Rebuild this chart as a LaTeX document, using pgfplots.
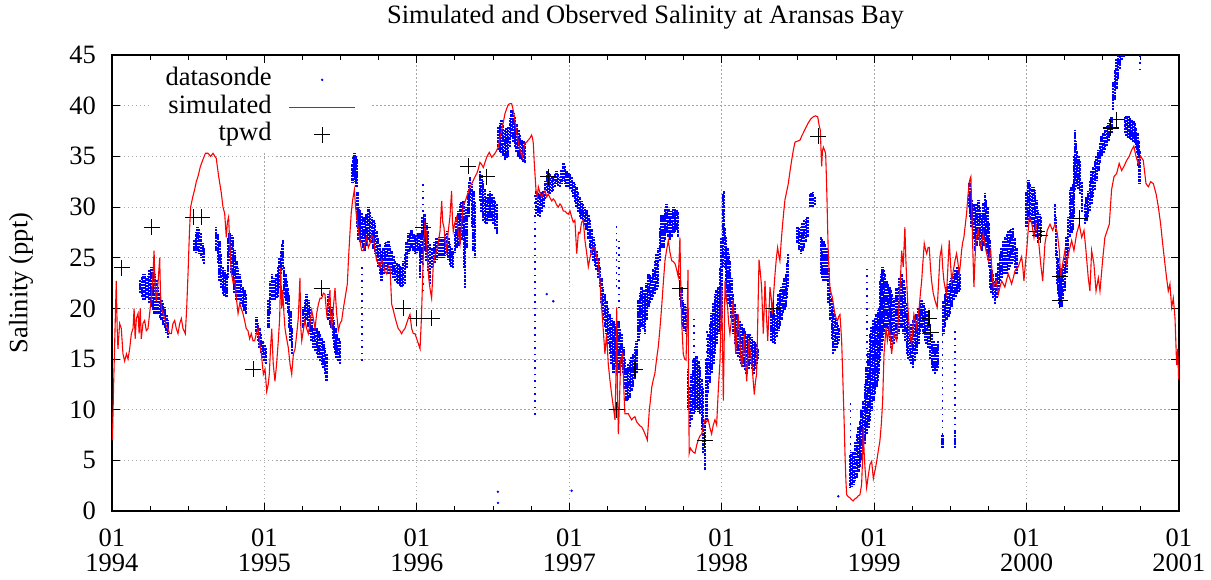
\documentclass[border=0pt]{standalone}
\usepackage{fontspec}
\setmainfont{Liberation Serif}
\usepackage{pgfplots}
\usepackage{pgfplotstable}
\pgfplotsset{compat=1.18}

% datasonde record: dense stretches, each column spans lo..hi on that date
\pgfplotstableread{
x lo hi
1994.185 21.5 22.8
1994.195 21.1 23.1
1994.205 20.8 23.4
1994.214 20.8 23.4
1994.225 21.0 23.0
1994.236 21.0 23.2
1994.247 20.5 23.8
1994.258 20.1 24.1
1994.269 19.8 23.8
1994.280 19.4 23.4
1994.291 19.4 22.8
1994.302 19.4 22.1
1994.313 19.0 21.5
1994.324 18.8 20.8
1994.335 18.4 20.5
1994.346 18.1 20.1
1994.357 17.6 19.4
1994.367 17.1 18.8
1994.540 25.7 26.7
1994.550 25.5 27.5
1994.560 25.7 28.0
1994.572 25.4 27.8
1994.584 25.0 27.4
1994.596 24.7 26.5
1994.604 24.4 26.0
1994.684 25.7 28.0
1994.695 24.5 27.4
1994.706 22.7 26.7
1994.717 22.0 25.4
1994.728 21.4 24.1
1994.739 21.2 23.8
1994.750 21.1 23.4
1994.761 23.0 27.0
1994.772 24.7 27.4
1994.783 23.5 27.2
1994.794 22.7 27.0
1994.805 21.5 25.8
1994.816 20.8 24.7
1994.827 20.8 24.0
1994.837 20.8 23.4
1994.848 20.4 22.8
1994.859 20.1 22.1
1994.870 19.7 21.8
1994.881 19.4 21.4
1994.947 17.5 19.1
1994.958 16.8 18.6
1994.968 16.1 18.1
1994.979 15.6 17.5
1994.990 15.1 16.8
1995.001 14.8 16.4
1995.012 14.5 16.1
1995.026 18.1 20.8
1995.037 19.4 22.7
1995.048 20.8 23.4
1995.059 20.8 23.0
1995.069 20.8 22.7
1995.080 21.0 23.4
1995.091 21.1 24.1
1995.099 22.0 25.0
1995.107 23.4 25.7
1995.114 23.8 26.4
1995.120 24.1 26.7
1995.128 21.4 24.1
1995.137 21.0 23.4
1995.146 20.4 22.7
1995.155 19.5 22.0
1995.163 18.1 21.4
1995.171 16.8 19.8
1995.179 15.5 18.1
1995.255 18.1 20.1
1995.266 18.5 20.8
1995.277 18.8 21.4
1995.288 18.2 20.8
1995.299 17.5 20.1
1995.310 16.8 19.1
1995.321 16.1 18.1
1995.332 15.8 18.1
1995.343 15.5 18.1
1995.354 15.1 17.8
1995.365 14.8 17.5
1995.376 14.4 17.1
1995.387 14.1 16.8
1995.398 13.5 16.1
1995.408 12.8 15.5
1995.419 18.8 21.4
1995.430 18.4 20.8
1995.441 18.1 20.1
1995.449 17.0 19.5
1995.457 16.1 18.8
1995.466 15.6 18.1
1995.474 15.1 17.5
1995.485 14.8 17.1
1995.496 14.5 16.8
1995.579 32.4 34.3
1995.585 32.8 35.0
1995.590 33.0 35.3
1995.598 32.5 35.0
1995.605 32.0 34.7
1995.610 28.0 31.5
1995.616 26.7 30.0
1995.627 26.5 29.7
1995.638 26.4 29.4
1995.649 26.0 29.0
1995.660 25.7 28.7
1995.671 26.2 29.3
1995.682 26.7 30.0
1995.693 26.5 29.5
1995.704 26.4 29.0
1995.715 25.9 28.7
1995.726 25.4 28.4
1995.737 24.8 27.7
1995.747 24.1 27.0
1995.758 23.4 26.4
1995.769 22.7 25.7
1995.780 23.4 26.0
1995.791 24.1 26.4
1995.802 23.8 26.5
1995.813 23.4 26.7
1995.824 23.4 26.2
1995.835 23.4 25.7
1995.846 23.0 25.2
1995.857 22.7 24.7
1995.868 22.5 24.5
1995.879 22.4 24.4
1995.890 22.2 24.2
1995.900 22.1 24.1
1995.911 22.2 24.7
1995.922 22.4 25.4
1995.933 24.0 26.5
1995.944 25.4 27.4
1995.955 25.7 27.5
1995.966 26.0 27.7
1995.977 25.7 27.3
1995.988 25.4 27.0
1995.999 25.5 27.2
1996.010 25.7 27.4
1996.021 23.0 26.3
1996.030 24.5 27.5
1996.038 27.0 29.0
1996.046 26.5 29.3
1996.053 25.7 29.3
1996.064 24.7 28.4
1996.075 23.7 27.6
1996.086 22.4 26.3
1996.100 24.0 26.0
1996.115 24.5 26.5
1996.130 24.8 27.0
1996.145 25.0 27.0
1996.160 25.0 27.0
1996.174 25.0 27.0
1996.185 25.2 27.3
1996.196 25.3 27.6
1996.207 24.8 27.0
1996.217 24.3 26.3
1996.228 24.1 26.0
1996.239 24.0 25.7
1996.250 25.5 27.5
1996.261 26.0 29.0
1996.272 26.2 29.6
1996.283 26.3 30.3
1996.294 26.7 30.5
1996.305 27.0 30.6
1996.310 24.0 29.0
1996.316 22.0 27.0
1996.327 26.0 30.0
1996.338 29.0 31.6
1996.343 29.5 32.5
1996.349 30.6 33.0
1996.360 28.0 32.3
1996.371 25.7 31.6
1996.382 25.0 30.5
1996.414 30.6 33.6
1996.425 29.5 33.2
1996.436 28.6 32.6
1996.447 28.4 31.8
1996.458 28.3 31.0
1996.469 28.6 31.3
1996.480 29.0 31.6
1996.491 28.6 31.3
1996.502 28.3 31.0
1996.513 27.8 30.6
1996.524 27.3 30.3
1996.535 35.6 37.9
1996.545 35.4 38.3
1996.556 35.3 38.6
1996.567 35.0 38.1
1996.578 34.6 37.6
1996.589 34.8 37.8
1996.600 34.9 37.9
1996.611 35.9 38.8
1996.622 36.9 39.6
1996.633 36.4 39.3
1996.644 35.9 38.9
1996.655 35.4 38.2
1996.666 34.9 37.6
1996.677 34.7 37.1
1996.688 34.6 36.6
1996.699 34.4 36.5
1996.710 34.3 36.3
1996.782 29.3 31.6
1996.795 29.1 31.4
1996.808 29.0 31.3
1996.819 29.5 31.5
1996.830 30.0 31.6
1996.841 30.8 32.6
1996.852 31.6 33.6
1996.863 31.4 33.4
1996.874 31.3 33.3
1996.885 31.5 33.1
1996.895 31.6 33.0
1996.906 32.0 33.3
1996.917 32.3 33.6
1996.928 32.1 33.3
1996.939 32.0 33.0
1996.950 32.3 33.7
1996.961 32.6 34.3
1996.972 32.3 34.0
1996.983 32.0 33.6
1996.994 32.0 33.4
1997.005 31.8 33.3
1997.016 31.5 33.0
1997.027 31.0 32.5
1997.038 30.5 32.3
1997.048 30.0 32.0
1997.059 29.5 31.5
1997.070 29.0 31.0
1997.081 28.8 30.6
1997.092 28.7 30.3
1997.103 28.2 30.0
1997.114 27.7 29.7
1997.125 26.8 29.2
1997.136 26.0 28.7
1997.147 25.3 27.8
1997.158 24.7 27.0
1997.169 24.2 26.3
1997.180 23.8 25.7
1997.191 23.0 25.0
1997.201 22.1 24.1
1997.212 20.5 23.0
1997.223 18.8 22.1
1997.234 18.2 21.5
1997.245 17.5 20.8
1997.256 16.5 20.0
1997.267 15.5 19.5
1997.278 14.5 19.0
1997.289 13.6 18.8
1997.300 14.9 18.2
1997.311 14.2 18.5
1997.322 13.6 18.8
1997.333 13.9 18.0
1997.344 14.2 17.5
1997.355 13.6 16.2
1997.366 12.0 15.0
1997.376 10.9 14.2
1997.387 11.0 14.5
1997.398 11.2 14.9
1997.409 11.8 15.2
1997.420 12.2 15.5
1997.431 13.0 16.2
1997.442 13.6 16.8
1997.453 16.8 20.8
1997.464 17.5 21.5
1997.475 18.2 22.1
1997.486 18.0 21.8
1997.497 17.5 21.4
1997.508 18.8 22.5
1997.519 20.1 23.4
1997.530 20.5 23.3
1997.540 20.8 23.1
1997.551 21.1 23.9
1997.562 21.4 24.7
1997.573 21.8 25.4
1997.584 22.1 26.0
1997.595 24.7 28.0
1997.606 26.0 29.3
1997.617 26.0 29.3
1997.628 26.7 29.8
1997.639 27.4 30.3
1997.650 27.0 29.8
1997.661 26.7 29.3
1997.672 27.0 29.6
1997.683 27.4 30.0
1997.694 27.5 29.8
1997.704 27.7 29.7
1997.715 27.0 29.5
1997.726 20.8 23.5
1997.737 20.1 22.1
1997.748 18.2 20.8
1997.757 17.8 20.4
1997.766 17.5 20.1
1997.779 10.0 14.0
1997.792 8.3 12.2
1997.803 9.0 13.5
1997.814 9.6 14.9
1997.825 9.8 15.0
1997.836 10.0 15.3
1997.847 9.8 14.8
1997.858 9.6 14.2
1997.869 8.0 13.0
1997.879 5.7 12.2
1997.890 4.0 9.0
1997.901 9.0 15.0
1997.912 11.6 17.5
1997.923 12.6 18.5
1997.934 13.6 19.5
1997.945 14.5 20.5
1997.956 15.5 21.4
1997.967 16.5 21.8
1997.978 17.5 22.1
1997.989 18.0 24.0
1998.000 19.0 27.0
1998.008 24.1 31.3
1998.015 26.7 31.6
1998.022 24.0 28.0
1998.030 22.1 27.0
1998.039 20.8 26.0
1998.046 20.4 25.4
1998.054 20.1 24.7
1998.065 19.0 23.0
1998.076 17.5 21.4
1998.087 16.5 20.4
1998.098 15.5 19.4
1998.109 15.2 19.1
1998.120 14.8 18.8
1998.131 14.5 18.5
1998.142 14.2 18.1
1998.153 13.9 17.8
1998.164 13.5 17.5
1998.175 14.0 17.5
1998.186 14.5 17.5
1998.197 14.0 17.2
1998.208 13.5 16.8
1998.219 14.0 16.7
1998.229 14.5 16.5
1998.240 15.0 16.0
1998.328 16.8 20.1
1998.339 16.6 19.8
1998.350 16.5 19.4
1998.361 17.2 20.4
1998.372 17.8 21.4
1998.382 18.3 21.8
1998.393 18.8 22.1
1998.404 19.5 22.5
1998.412 19.8 23.0
1998.420 20.1 23.4
1998.428 21.0 24.5
1998.437 22.1 25.4
1998.498 26.4 28.0
1998.509 25.8 28.0
1998.520 25.4 28.0
1998.531 25.7 28.4
1998.542 26.0 28.7
1998.553 26.5 28.8
1998.564 27.0 29.0
1998.579 30.0 31.3
1998.590 30.0 31.4
1998.601 30.0 31.5
1998.612 30.2 31.0
1998.651 23.4 27.0
1998.659 23.0 26.8
1998.667 22.7 26.7
1998.678 22.7 26.3
1998.689 22.7 26.0
1998.700 20.5 24.0
1998.711 18.8 22.1
1998.722 17.0 21.0
1998.732 15.5 20.1
1998.743 15.8 19.4
1998.754 16.1 18.8
1998.762 16.5 18.4
1998.770 16.8 18.1
1998.842 2.3 5.6
1998.853 2.4 5.8
1998.864 2.6 5.9
1998.875 3.0 6.8
1998.886 3.3 7.6
1998.897 3.8 8.3
1998.907 4.3 8.9
1998.918 5.0 10.0
1998.929 5.6 10.9
1998.940 6.6 12.5
1998.951 7.6 14.2
1998.962 8.2 15.8
1998.973 8.9 17.5
1998.984 9.9 18.2
1998.995 10.9 18.8
1999.006 11.5 19.1
1999.017 12.2 19.4
1999.025 12.8 19.8
1999.032 13.5 20.1
1999.039 14.8 22.7
1999.048 15.8 23.4
1999.056 16.8 24.1
1999.064 17.5 23.8
1999.071 18.1 23.4
1999.082 18.1 22.7
1999.091 17.8 22.4
1999.100 17.5 22.1
1999.108 16.8 21.8
1999.115 16.1 21.4
1999.130 16.5 21.0
1999.148 17.0 22.0
1999.165 17.5 23.0
1999.181 18.1 23.4
1999.192 17.5 22.8
1999.203 16.8 22.1
1999.214 15.5 20.5
1999.224 15.0 19.4
1999.235 14.8 18.1
1999.246 14.5 18.5
1999.257 14.1 18.8
1999.268 14.8 19.1
1999.279 15.5 19.4
1999.290 16.5 20.0
1999.301 17.5 20.5
1999.312 18.1 20.8
1999.323 17.5 20.5
1999.334 16.8 20.1
1999.345 16.5 19.8
1999.356 16.1 19.4
1999.367 15.0 18.5
1999.378 14.1 17.5
1999.389 13.8 16.8
1999.399 13.5 16.1
1999.410 13.8 16.5
1999.421 14.1 16.8
1999.450 6.2 7.5
1999.454 17.5 20.8
1999.465 18.2 21.5
1999.476 18.8 22.1
1999.487 19.1 22.4
1999.498 19.4 22.7
1999.509 20.1 23.0
1999.520 20.8 23.4
1999.531 6.2 7.8
1999.533 21.1 23.8
1999.542 21.4 24.1
1999.553 21.6 23.8
1999.563 21.8 23.4
1999.625 30.0 32.4
1999.633 29.0 31.5
1999.640 28.0 30.7
1999.651 26.8 30.3
1999.662 25.7 30.0
1999.673 26.2 30.3
1999.684 26.7 30.7
1999.695 26.2 30.0
1999.706 25.7 29.4
1999.717 26.2 30.4
1999.728 26.7 31.4
1999.736 26.0 30.7
1999.743 25.4 30.0
1999.750 24.8 28.4
1999.756 24.1 26.7
1999.764 22.0 24.5
1999.771 21.5 23.8
1999.782 21.0 23.4
1999.793 20.4 22.7
1999.804 21.0 23.5
1999.815 21.8 24.5
1999.826 22.7 25.4
1999.837 23.0 26.0
1999.848 23.4 26.7
1999.859 23.4 27.0
1999.870 23.4 27.4
1999.881 23.8 27.6
1999.892 24.1 27.7
1999.902 24.4 27.8
1999.913 24.7 28.0
1999.924 24.0 27.0
1999.935 23.4 26.0
2000.001 28.0 31.5
2000.012 28.7 32.7
2000.023 28.5 32.3
2000.034 28.4 32.0
2000.045 28.0 32.0
2000.055 27.7 31.7
2000.066 27.0 30.7
2000.077 26.4 29.7
2000.085 26.7 29.3
2000.093 27.0 29.0
2000.185 28.3 30.3
2000.192 25.0 29.0
2000.198 22.4 25.7
2000.206 21.4 25.0
2000.215 20.4 24.4
2000.223 20.2 24.0
2000.230 20.1 23.7
2000.241 20.9 24.4
2000.252 21.7 25.0
2000.263 23.5 27.0
2000.274 25.0 29.0
2000.285 27.0 31.7
2000.294 27.4 32.0
2000.303 27.7 32.3
2000.311 29.0 35.0
2000.318 31.7 37.6
2000.326 32.0 36.5
2000.333 32.3 35.6
2000.342 31.8 35.0
2000.351 31.3 34.6
2000.362 29.5 32.5
2000.383 28.3 30.3
2000.394 28.6 31.0
2000.405 29.0 31.6
2000.416 29.6 32.6
2000.427 30.3 33.6
2000.438 31.0 34.0
2000.449 31.7 34.6
2000.460 32.6 35.0
2000.471 33.6 35.6
2000.482 34.3 36.3
2000.493 35.0 37.0
2000.504 35.3 37.3
2000.515 35.6 37.6
2000.526 36.0 38.0
2000.537 36.5 38.3
2000.548 37.0 38.6
2000.558 37.3 38.9
2000.569 39.6 42.3
2000.580 40.6 43.5
2000.591 41.6 44.6
2000.602 42.6 46.0
2000.613 43.6 46.0
2000.624 44.5 46.0
2000.635 44.8 46.0
2000.646 37.3 38.9
2000.657 37.0 39.0
2000.668 36.8 39.0
2000.679 36.7 38.8
2000.690 36.6 38.6
2000.701 36.4 38.5
2000.712 36.3 38.3
2000.720 35.8 37.8
2000.727 35.3 37.3
2000.734 34.0 36.5
2000.740 32.3 35.6
}\sondedense

% datasonde record: thin scattered streaks
\pgfplotstableread{
x lo hi
1995.640 14.8 24.1
1996.040 21.7 32.3
1996.775 9.5 31.6
1997.311 22.1 28.4
1997.328 20.0 27.0
1997.820 14.9 19.1
1997.905 13.0 18.0
1998.845 5.9 10.9
1998.955 14.0 24.1
1999.450 7.5 18.1
1999.531 7.8 18.1
2000.745 43.5 46.0
}\sondesparse

\begin{document}
\begin{tikzpicture}
\useasboundingbox (-112pt,-68pt) rectangle (1099pt,511pt);
\begin{axis}[
  at={(0pt,0pt)}, anchor=south west,
  scale only axis, width=1067pt, height=456pt,
  xmin=1994, xmax=2001, ymin=0, ymax=45,
  xtick={1994,1995,1996,1997,1998,1999,2000,2001},
  xticklabels={{01\\1994},{01\\1995},{01\\1996},{01\\1997},{01\\1998},{01\\1999},{01\\2000},{01\\2001}},
  minor x tick num=3,
  ytick={0,5,...,45},
  scaled x ticks=false,
  tick pos=both, tick align=inside,
  major tick length=8pt, minor tick length=5pt,
  every tick/.style={black, line width=0.9pt},
  axis line style={line width=1.5pt},
  grid=major,
  major grid style={gray!70, line width=0.8pt, dash pattern=on 1.5pt off 2.5pt},
  font=\fontsize{26.5}{26}\selectfont,
  /pgf/number format/assume math mode=true,
  xticklabel style={align=center, inner sep=0pt, anchor=north, yshift=-17.5pt,
    font=\fontsize{26.5}{25.5}\selectfont},
  yticklabel style={inner sep=0pt, anchor=east, xshift=-16pt},
  title={Simulated and Observed Salinity at Aransas Bay},
  title style={at={(0.5,1)}, anchor=base, yshift=26pt},
  ylabel={Salinity (ppt)},
  ylabel style={at={(axis description cs:-0.0853,0.5)}, anchor=center},
  legend style={at={(axis description cs:0.2437,0.981)}, anchor=north east,
    draw=none, fill=white, inner xsep=16pt, inner ysep=4pt,
    column sep=17pt, row sep=3.5pt,
    font=\fontsize{26.5}{26}\selectfont,
    nodes={inner sep=0pt, text height=18pt, text depth=6pt}},
  legend cell align=right,
  legend plot pos=right,
]

\addlegendimage{legend image code/.code={\path[draw=none,fill=none] (0pt,0pt) -- (66pt,0pt); \fill[blue] (33pt,0pt) circle (1pt);}}
\addlegendentry{datasonde}
\addlegendimage{legend image code/.code={\draw[draw=red, solid, line width=1.3pt] (0pt,0pt) -- (66pt,0pt);}}
\addlegendentry{simulated}
\addlegendimage{legend image code/.code={\path[draw=none,fill=none] (0pt,0pt) -- (66pt,0pt); \draw[draw=black, solid, line width=1.1pt] (25pt,0pt) -- (41pt,0pt) (33pt,-8pt) -- (33pt,8pt);}}
\addlegendentry{tpwd}

% datasonde, dense stretches
\addplot[draw=none, mark=none, forget plot,
  error bars/.cd, y dir=plus, y explicit, error mark=none,
  error bar style={draw=blue, line width=2.4pt, dash pattern=on 1.1pt off 0.4pt on 0.7pt off 0.6pt}]
  table[x=x, y=lo, y error expr=\thisrow{hi}-\thisrow{lo}] {\sondedense};

% datasonde, scattered streaks
\addplot[draw=none, mark=none, forget plot,
  error bars/.cd, y dir=plus, y explicit, error mark=none,
  error bar style={draw=blue, line width=1.6pt, dash pattern=on 1.6pt off 5pt}]
  table[x=x, y=lo, y error expr=\thisrow{hi}-\thisrow{lo}] {\sondesparse};

% datasonde, isolated readings
\addplot[only marks, mark=*, mark size=1pt, blue, forget plot] coordinates {
(1996.532,1.9) (1996.532,0.8) (1997.016,2.0) (1998.765,1.45) (1996.852,21.4) (1996.895,20.7)
};

% simulated salinity
\addplot[red, line width=1.1pt, forget plot] table {
x y
1994.003 7.0
1994.010 12.0
1994.020 18.0
1994.028 22.7
1994.034 18.0
1994.039 16.0
1994.050 18.5
1994.061 18.0
1994.072 15.5
1994.083 14.8
1994.095 15.5
1994.105 15.0
1994.116 16.0
1994.127 17.5
1994.138 18.0
1994.145 20.0
1994.152 17.0
1994.160 19.0
1994.171 19.5
1994.178 17.5
1994.185 20.0
1994.192 17.0
1994.203 18.5
1994.214 18.8
1994.225 17.8
1994.236 18.0
1994.247 19.5
1994.258 21.0
1994.268 23.0
1994.276 25.7
1994.283 22.0
1994.291 20.7
1994.302 22.5
1994.313 25.0
1994.318 21.5
1994.324 20.0
1994.335 19.5
1994.346 19.0
1994.357 18.2
1994.367 18.0
1994.378 17.5
1994.389 17.5
1994.400 18.5
1994.411 18.8
1994.422 18.0
1994.433 17.5
1994.444 18.5
1994.455 19.0
1994.466 18.0
1994.481 17.5
1994.490 20.0
1994.499 23.5
1994.508 27.5
1994.516 30.0
1994.530 31.0
1994.542 31.7
1994.553 32.5
1994.564 33.0
1994.580 34.0
1994.597 34.7
1994.613 35.3
1994.630 35.3
1994.647 35.0
1994.663 35.3
1994.675 35.0
1994.684 34.8
1994.700 33.0
1994.717 31.4
1994.728 30.0
1994.739 29.4
1994.750 27.0
1994.757 28.5
1994.765 29.0
1994.774 26.0
1994.783 23.5
1994.795 22.5
1994.805 22.8
1994.816 21.0
1994.827 19.5
1994.838 20.5
1994.848 20.0
1994.859 19.5
1994.870 18.8
1994.881 18.0
1994.892 17.8
1994.903 17.0
1994.914 17.5
1994.925 16.8
1994.936 16.8
1994.947 17.5
1994.958 18.0
1994.969 16.5
1994.980 15.5
1994.993 13.5
1995.004 14.0
1995.015 11.8
1995.025 12.5
1995.032 13.5
1995.040 16.0
1995.048 18.0
1995.058 14.5
1995.069 12.8
1995.080 14.5
1995.091 16.8
1995.100 19.0
1995.107 24.0
1995.114 20.0
1995.120 21.8
1995.128 19.5
1995.135 18.0
1995.146 17.0
1995.157 16.1
1995.168 14.5
1995.179 13.5
1995.190 15.5
1995.201 16.0
1995.212 17.5
1995.222 19.0
1995.233 23.0
1995.239 18.0
1995.245 16.8
1995.255 17.8
1995.266 18.8
1995.277 18.0
1995.288 17.5
1995.299 18.5
1995.310 19.8
1995.321 19.0
1995.332 18.0
1995.343 19.5
1995.354 20.4
1995.365 21.0
1995.376 21.0
1995.387 21.5
1995.397 21.4
1995.409 19.4
1995.420 20.5
1995.430 21.8
1995.436 19.0
1995.441 18.0
1995.452 20.0
1995.463 22.0
1995.474 19.5
1995.485 17.8
1995.496 18.5
1995.507 18.8
1995.518 20.0
1995.529 21.0
1995.544 22.4
1995.552 25.0
1995.561 27.4
1995.570 29.5
1995.579 30.7
1995.590 31.7
1995.598 30.0
1995.605 29.0
1995.616 27.8
1995.627 26.7
1995.638 25.7
1995.649 25.7
1995.660 26.3
1995.671 27.0
1995.682 26.0
1995.693 26.4
1995.704 27.2
1995.714 27.0
1995.725 25.8
1995.736 24.7
1995.747 24.5
1995.758 24.0
1995.769 24.8
1995.780 24.4
1995.791 23.6
1995.802 23.4
1995.813 24.2
1995.824 24.0
1995.830 22.0
1995.835 20.4
1995.846 19.8
1995.857 19.1
1995.868 18.5
1995.878 18.0
1995.889 17.8
1995.900 17.5
1995.911 17.8
1995.922 18.0
1995.933 18.5
1995.944 19.0
1995.955 19.4
1995.966 18.0
1995.977 17.5
1995.988 17.5
1995.999 17.0
1996.010 16.5
1996.021 16.0
1996.030 19.0
1996.038 23.0
1996.045 26.5
1996.053 28.3
1996.061 27.6
1996.069 25.0
1996.078 23.0
1996.086 22.0
1996.097 21.0
1996.108 24.3
1996.119 25.2
1996.130 25.7
1996.141 26.5
1996.152 27.6
1996.163 30.6
1996.170 28.5
1996.178 28.0
1996.187 26.5
1996.196 25.7
1996.206 27.6
1996.217 29.0
1996.228 31.6
1996.234 28.5
1996.239 27.6
1996.250 28.5
1996.261 29.0
1996.272 27.5
1996.283 26.3
1996.294 28.5
1996.305 30.3
1996.316 30.5
1996.327 31.0
1996.338 31.5
1996.349 32.0
1996.360 32.3
1996.370 32.6
1996.382 33.0
1996.393 33.3
1996.404 33.8
1996.414 34.4
1996.425 34.2
1996.436 33.9
1996.447 34.4
1996.458 34.9
1996.475 35.4
1996.491 34.9
1996.502 35.1
1996.513 35.3
1996.524 35.6
1996.534 35.9
1996.545 36.8
1996.557 37.6
1996.568 38.4
1996.578 39.2
1996.589 39.7
1996.600 40.1
1996.611 40.2
1996.622 40.2
1996.630 39.7
1996.637 39.2
1996.646 38.2
1996.655 37.3
1996.666 36.4
1996.677 35.6
1996.686 35.2
1996.694 34.9
1996.702 35.8
1996.709 36.3
1996.720 36.4
1996.731 36.6
1996.742 36.8
1996.753 37.1
1996.759 36.8
1996.764 36.3
1996.770 34.5
1996.775 33.3
1996.782 31.6
1996.790 31.0
1996.797 32.0
1996.808 31.4
1996.819 31.0
1996.830 31.3
1996.841 31.6
1996.852 31.0
1996.862 31.3
1996.874 30.9
1996.885 30.6
1996.895 30.8
1996.906 30.6
1996.917 30.2
1996.928 30.0
1996.939 30.3
1996.950 30.1
1996.961 29.6
1996.972 29.6
1996.983 29.4
1996.994 29.3
1997.005 29.6
1997.016 29.0
1997.026 28.5
1997.037 28.7
1997.049 25.4
1997.060 27.5
1997.070 27.4
1997.081 28.5
1997.092 28.7
1997.103 26.7
1997.114 25.5
1997.125 24.1
1997.136 25.0
1997.147 25.7
1997.158 26.0
1997.169 26.0
1997.180 25.0
1997.190 24.7
1997.201 22.8
1997.210 20.5
1997.219 18.8
1997.227 17.0
1997.234 15.5
1997.245 17.5
1997.256 14.5
1997.267 12.9
1997.278 11.5
1997.289 10.3
1997.300 9.0
1997.306 13.0
1997.311 20.1
1997.316 12.0
1997.322 7.6
1997.330 11.0
1997.337 14.9
1997.350 15.5
1997.358 12.0
1997.365 9.6
1997.376 9.6
1997.387 9.6
1997.398 9.3
1997.409 9.0
1997.420 9.2
1997.431 9.3
1997.442 8.8
1997.453 8.6
1997.464 8.4
1997.475 8.3
1997.486 8.0
1997.497 7.6
1997.505 7.3
1997.512 7.0
1997.525 9.9
1997.533 11.0
1997.541 12.2
1997.552 13.0
1997.562 13.6
1997.573 15.0
1997.584 16.2
1997.595 18.0
1997.606 20.1
1997.617 22.5
1997.628 24.7
1997.639 25.8
1997.650 26.7
1997.661 25.5
1997.672 24.7
1997.683 24.6
1997.694 24.4
1997.705 23.8
1997.715 23.1
1997.721 25.0
1997.726 27.0
1997.732 22.0
1997.737 18.8
1997.748 15.5
1997.757 15.0
1997.766 14.9
1997.772 18.0
1997.779 23.8
1997.783 12.0
1997.787 5.7
1997.795 6.2
1997.803 6.0
1997.814 5.8
1997.825 5.7
1997.836 6.5
1997.846 7.0
1997.857 7.4
1997.869 7.6
1997.879 8.3
1997.890 9.0
1997.901 8.8
1997.912 9.0
1997.923 8.2
1997.934 7.6
1997.945 8.5
1997.956 9.0
1997.967 8.5
1997.978 12.0
1997.989 14.8
1998.000 22.0
1998.011 10.9
1998.022 22.7
1998.030 21.0
1998.039 20.1
1998.046 18.5
1998.054 17.5
1998.065 19.0
1998.076 20.8
1998.084 18.0
1998.092 15.5
1998.100 17.5
1998.109 19.4
1998.120 16.5
1998.131 14.2
1998.140 15.5
1998.148 17.5
1998.156 15.0
1998.164 12.8
1998.172 15.0
1998.179 16.9
1998.188 15.5
1998.197 14.8
1998.206 13.0
1998.214 11.5
1998.222 12.8
1998.229 13.5
1998.237 19.0
1998.245 24.8
1998.254 23.5
1998.262 22.1
1998.268 19.5
1998.273 17.5
1998.279 20.0
1998.284 22.7
1998.293 19.5
1998.302 16.8
1998.310 19.5
1998.317 22.1
1998.325 21.0
1998.332 19.4
1998.341 21.5
1998.350 23.4
1998.359 25.0
1998.367 26.0
1998.375 25.2
1998.382 24.7
1998.390 26.5
1998.398 28.0
1998.407 29.5
1998.415 30.7
1998.426 31.5
1998.437 32.3
1998.448 33.5
1998.459 34.6
1998.470 35.6
1998.481 36.4
1998.497 36.5
1998.514 36.6
1998.525 37.0
1998.535 37.3
1998.551 37.8
1998.568 38.3
1998.585 38.7
1998.601 38.9
1998.615 39.0
1998.630 38.9
1998.640 38.0
1998.647 37.6
1998.652 35.5
1998.656 34.0
1998.661 35.5
1998.667 35.9
1998.675 35.6
1998.682 35.3
1998.687 33.0
1998.691 30.7
1998.695 28.0
1998.699 25.7
1998.705 23.5
1998.710 22.1
1998.718 21.5
1998.726 21.1
1998.735 20.2
1998.743 19.4
1998.752 19.0
1998.761 18.8
1998.768 19.2
1998.776 19.4
1998.782 18.0
1998.787 16.8
1998.793 14.0
1998.798 11.5
1998.804 8.5
1998.809 5.6
1998.815 3.0
1998.820 1.6
1998.831 1.4
1998.842 1.3
1998.853 1.1
1998.863 1.0
1998.874 1.2
1998.885 1.3
1998.896 1.5
1998.907 1.6
1998.918 2.6
1998.924 5.0
1998.929 8.2
1998.934 6.0
1998.940 4.3
1998.951 2.3
1998.962 3.5
1998.973 4.6
1998.984 4.9
1998.995 3.2
1999.006 4.0
1999.017 4.9
1999.028 6.0
1999.038 6.9
1999.047 8.5
1999.056 10.8
1999.065 15.5
1999.078 18.1
1999.087 16.8
1999.100 18.1
1999.115 15.5
1999.130 17.5
1999.148 16.8
1999.157 18.5
1999.165 20.8
1999.173 23.0
1999.181 25.7
1999.191 24.1
1999.202 28.0
1999.208 25.0
1999.214 22.7
1999.222 20.0
1999.231 18.1
1999.239 17.0
1999.246 16.5
1999.254 18.0
1999.261 19.4
1999.270 18.8
1999.279 18.1
1999.288 19.2
1999.296 20.1
1999.304 21.5
1999.312 22.7
1999.320 24.5
1999.329 26.4
1999.337 25.8
1999.345 25.4
1999.354 26.0
1999.362 26.0
1999.370 24.0
1999.377 22.7
1999.388 21.5
1999.399 20.8
1999.407 20.4
1999.414 20.1
1999.423 22.5
1999.432 25.1
1999.443 26.0
1999.450 24.0
1999.458 22.7
1999.466 22.0
1999.475 21.4
1999.484 24.0
1999.493 26.7
1999.501 24.5
1999.509 22.7
1999.517 23.5
1999.524 24.1
1999.532 24.8
1999.541 25.4
1999.550 24.5
1999.559 23.4
1999.567 24.5
1999.574 25.7
1999.581 26.5
1999.589 27.0
1999.598 28.2
1999.607 29.4
1999.615 31.0
1999.624 32.4
1999.630 32.8
1999.635 33.0
1999.641 29.5
1999.646 26.7
1999.651 24.0
1999.655 22.1
1999.661 24.5
1999.668 26.7
1999.676 27.3
1999.683 27.7
1999.691 26.8
1999.699 26.0
1999.708 26.7
1999.716 27.4
1999.725 26.5
1999.734 25.7
1999.742 25.2
1999.749 24.7
1999.757 25.2
1999.765 25.7
1999.773 23.8
1999.782 22.1
1999.791 22.4
1999.800 22.7
1999.808 22.0
1999.815 21.4
1999.826 22.1
1999.837 22.7
1999.848 22.4
1999.858 22.1
1999.869 22.8
1999.880 23.4
1999.891 22.9
1999.902 22.4
1999.913 23.0
1999.924 23.7
1999.935 23.9
1999.946 24.1
1999.957 24.6
1999.968 25.1
1999.976 24.0
1999.983 22.7
1999.992 24.3
2000.001 25.7
2000.010 27.5
2000.018 29.0
2000.026 28.7
2000.034 28.4
2000.049 27.0
2000.062 28.3
2000.077 27.0
2000.093 24.4
2000.106 22.7
2000.121 26.4
2000.136 27.7
2000.154 28.3
2000.171 27.7
2000.187 28.3
2000.202 27.4
2000.215 25.7
2000.224 23.0
2000.237 24.4
2000.252 25.7
2000.263 24.4
2000.280 25.7
2000.296 26.7
2000.311 25.7
2000.329 27.4
2000.346 28.3
2000.362 27.0
2000.377 27.7
2000.390 25.7
2000.405 23.0
2000.416 21.7
2000.427 25.7
2000.442 24.4
2000.456 21.7
2000.471 23.0
2000.482 21.7
2000.499 24.7
2000.514 27.0
2000.530 27.7
2000.543 28.3
2000.558 31.7
2000.574 33.0
2000.591 33.3
2000.608 34.3
2000.624 33.6
2000.639 34.0
2000.657 34.6
2000.674 35.0
2000.689 35.6
2000.704 36.0
2000.718 35.0
2000.733 34.3
2000.749 35.0
2000.766 34.6
2000.784 32.3
2000.799 32.0
2000.815 32.5
2000.832 32.3
2000.850 31.3
2000.865 30.0
2000.880 28.3
2000.893 26.4
2000.908 24.4
2000.919 23.0
2000.930 21.7
2000.941 22.4
2000.952 20.1
2000.963 21.0
2000.974 19.1
2000.985 14.4
2000.992 16.0
2000.998 13.0
};

% tpwd grab samples
\addplot[only marks, mark=+, mark size=8pt, black, mark options={line width=1.1pt}, forget plot] table {
x y
1994.064 24.0
1994.260 28.0
1994.534 29.0
1994.588 29.0
1994.927 14.0
1995.376 22.0
1995.911 20.0
1995.999 19.0
1996.097 19.0
1996.042 28.0
1996.338 34.0
1996.458 33.0
1996.862 33.0
1997.311 10.0
1997.431 14.0
1997.726 22.0
1997.890 7.0
1998.339 20.0
1998.634 37.0
1999.360 19.0
1999.370 17.6
2000.070 27.6
2000.090 27.2
2000.219 23.1
2000.219 20.8
2000.350 28.9
2000.552 37.8
2000.591 38.6
};

\end{axis}
\end{tikzpicture}
\end{document}
